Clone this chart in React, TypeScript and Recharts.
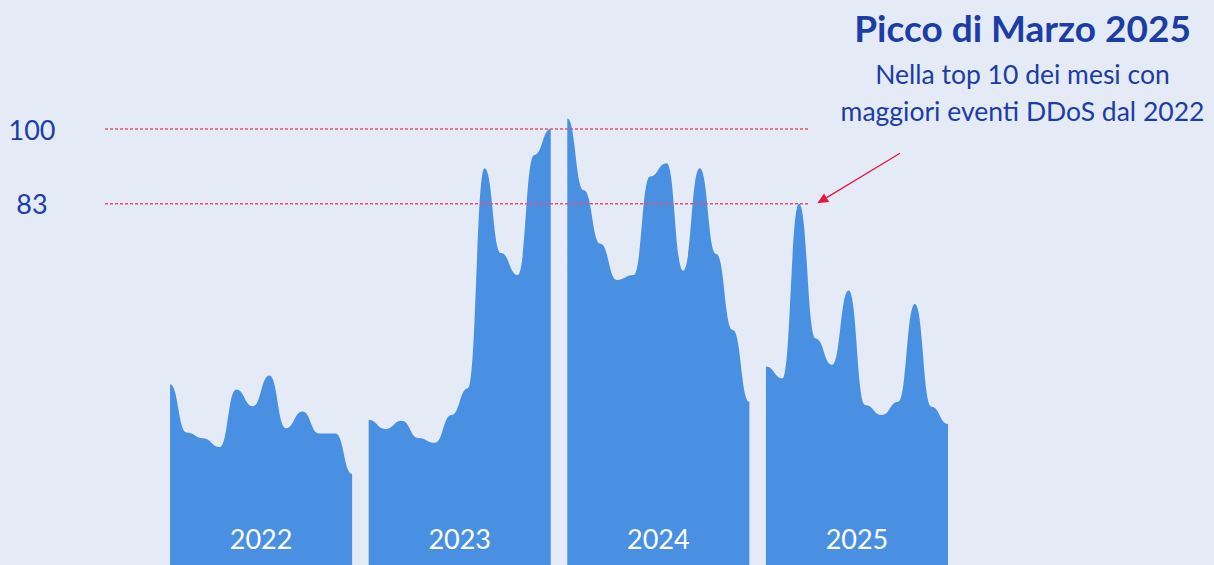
import { AreaChart, Area, XAxis, YAxis, ReferenceLine } from "recharts"

// monthly DDoS index, one array per year (Jan..Dec)
const years = ["2022", "2023", "2024", "2025"]
const months = ["gen", "feb", "mar", "apr", "mag", "giu", "lug", "ago", "set", "ott", "nov", "dic"]

const values2022 = [42.0, 31.0, 29.7, 27.7, 40.8, 37.0, 44.0, 32.0, 35.8, 30.8, 30.8, 21.6]
const values2023 = [33.9, 31.8, 33.7, 29.8, 28.7, 35.0, 41.1, 91.1, 71.8, 66.8, 94.1, 100]
const values2024 = [102.4, 86.1, 73.9, 65.7, 66.8, 89.2, 92.2, 67.8, 91.1, 71.6, 54.3, 38.0]
const values2025 = [46.0, 43.3, 83, 52.4, 46.4, 63.3, 37.3, 35.0, 38.0, 60.2, 36.9, 33.0]

const series = [values2022, values2023, values2024, values2025]

// highlighted levels: Dec 2023 and the March 2025 peak
const levels = [100, 83]

const title = "Picco di Marzo 2025"
const subtitle = ["Nella top 10 dei mesi con", "maggiori eventi DDoS dal 2022"]

const rows = series.flatMap((vals, yi) =>
  vals.map((v, mi) => ({
    m: yi * 12 + mi,
    label: `${months[mi]} ${years[yi]}`,
    [`y${years[yi]}`]: v,
  }))
)

const X_MIN = -3.93
const X_MAX = 47
const LEVEL_END = 38.55

const BG = "#e4ebf7"
const BLUE = "#4a90e2"
const NAVY = "#1c3ca6"
const RED = "#e8506e"
const FONT = "Lato, 'Open Sans', sans-serif"

function LevelTick({ y, payload }: any) {
  return (
    <text x={32} y={y} textAnchor="middle" dominantBaseline="central" fontSize={27} fill={NAVY} fontFamily={FONT}>
      {payload.value}
    </text>
  )
}

function Arrow({ x1, y1, x2, y2 }: any) {
  const len = Math.hypot(x2 - x1, y2 - y1) || 1
  const ux = (x2 - x1) / len
  const uy = (y2 - y1) / len
  const bx = x2 - ux * 11
  const by = y2 - uy * 11
  const pts = `${x2},${y2} ${bx - uy * 5},${by + ux * 5} ${bx + uy * 5},${by - ux * 5}`
  return (
    <g>
      <line x1={x1} y1={y1} x2={bx} y2={by} stroke="#e8193c" strokeWidth={1.3} />
      <polygon points={pts} fill="#e8193c" />
    </g>
  )
}

export default function App() {
  return (
    <div style={{ position: "fixed", left: 0, top: 0, width: 1214, height: 565, overflow: "hidden", background: BG }}>
      <AreaChart width={1214} height={570} data={rows} margin={{ top: 85, right: 266, bottom: 1, left: 0 }}>
        <XAxis dataKey="m" type="number" domain={[X_MIN, X_MAX]} hide />
        <YAxis
          type="number"
          domain={[0, 110]}
          ticks={levels}
          width={105}
          axisLine={false}
          tickLine={false}
          tick={<LevelTick />}
        />
        {years.map((yr) => (
          <Area
            key={yr}
            type="bumpX"
            dataKey={`y${yr}`}
            stroke="none"
            fill={BLUE}
            fillOpacity={1}
            isAnimationActive={false}
          />
        ))}
        {levels.map((lv) => (
          <ReferenceLine
            key={lv}
            segment={[{ x: X_MIN, y: lv }, { x: LEVEL_END, y: lv }]}
            stroke={RED}
            strokeWidth={1.4}
            strokeDasharray="3 2"
          />
        ))}
        {years.map((yr, i) => (
          <ReferenceLine
            key={`lbl${yr}`}
            x={i * 12 + 5.5}
            stroke="none"
            label={{ value: yr, position: "insideBottom", offset: 20, fill: "#ffffff", fontSize: 27, fontFamily: FONT }}
          />
        ))}
        <ReferenceLine
          segment={[{ x: 44.1, y: 94.5 }, { x: 39.1, y: 83.1 }]}
          shape={(p: any) => <Arrow {...p} />}
        />
      </AreaChart>
      <svg width={1214} height={565} style={{ position: "absolute", left: 0, top: 0, pointerEvents: "none" }}>
        <text x={1022.5} y={42} textAnchor="middle" fontSize={37} fontWeight={700} fill={NAVY} fontFamily={FONT}>
          {title}
        </text>
        {subtitle.map((line, i) => (
          <text key={i} x={1022.5} y={84 + i * 37} textAnchor="middle" fontSize={26.5} fill={NAVY} fontFamily={FONT}>
            {line}
          </text>
        ))}
      </svg>
    </div>
  )
}
